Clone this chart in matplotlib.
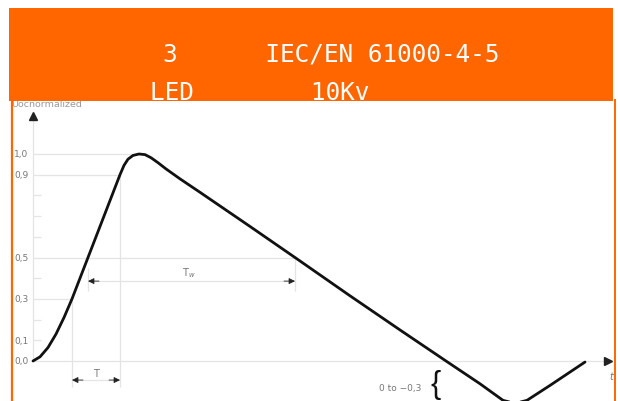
import numpy as np
import matplotlib
matplotlib.use("Agg")
import matplotlib.pyplot as plt
from matplotlib.patches import Rectangle
from matplotlib.lines import Line2D

# banner text (the blank runs are where the original had glyphs that did not render)
TITLE_LINE_1 = "3      IEC/EN 61000-4-5"
TITLE_LINE_2 = "LED        10Kv"

# normalized surge waveform (arbitrary time units)
time_us = [0.0, 0.7, 1.5, 2.3, 3.1, 3.9, 4.7, 5.5, 6.3, 7.1, 7.9, 8.7,
           9.1, 9.5, 10.0, 10.6, 11.2, 11.8, 12.5, 13.3, 14.7, 16.7,
           21.7, 26.2, 31.7, 36.7, 41.3, 44.7, 47.0, 48.2, 49.4, 51.7, 55.2]
level = [0.0, 0.02, 0.065, 0.13, 0.21, 0.30, 0.40, 0.50, 0.60, 0.70, 0.80, 0.90,
         0.945, 0.975, 0.993, 1.0, 0.997, 0.982, 0.958, 0.928, 0.88, 0.815,
         0.65, 0.50, 0.315, 0.15, 0.0, -0.11, -0.19, -0.205, -0.19, -0.118, -0.005]

tick_values = [1.0, 0.9, 0.5, 0.3, 0.1, 0.0]
tick_labels = ["1,0", "0,9", "0,5", "0,3", "0,1", "0,0"]
minor_values = [0.2, 0.4, 0.6, 0.7, 0.8]

ORANGE = "#ff6600"
GRID = "#e4e4e4"
LABEL = "#777777"
INK = "#111111"

W, H = 618, 402
fig = plt.figure(figsize=(W / 100, H / 100), dpi=100)
ax = fig.add_axes([0, 0, 1, 1])
ax.set_xlim(-3.3, 58.5)
ax.set_ylim(-40 / 207, 362 / 207)
ax.axis("off")

t = np.array(time_us)
v = np.array(level)
i_peak = int(np.argmax(v))
i_min = int(np.argmin(v))
t_rise, v_rise = t[: i_peak + 1], v[: i_peak + 1]
t_fall, v_fall = t[i_peak: i_min + 1], v[i_peak: i_min + 1]


def rise_at(x):
    return float(np.interp(x, v_rise, t_rise))


def fall_at(x):
    return float(np.interp(x, v_fall[::-1], t_fall[::-1]))


t30, t50r, t90 = rise_at(0.3), rise_at(0.5), rise_at(0.9)
t50f = fall_at(0.5)
t_pk = t[i_peak]

# reference lines
kw = dict(color=GRID, lw=0.9, zorder=1, solid_capstyle="butt")
ax.plot([0, t_pk], [1.0, 1.0], **kw)
ax.plot([0, t90], [0.9, 0.9], **kw)
ax.plot([t90, t90], [0.9, -0.125], **kw)
ax.plot([0, t50f], [0.5, 0.5], **kw)
ax.plot([0, t30], [0.3, 0.3], **kw)
ax.plot([t30, t30], [0.3, -0.125], **kw)
ax.plot([t50r, t50r], [0.45, 0.34], **kw)
ax.plot([t50f, t50f], [0.5, 0.34], **kw)
for m in minor_values + [0.1]:
    ax.plot([0, 0.8], [m, m], **kw)
ax.plot([0, 57.2], [0, 0], **kw)
ax.plot([0, 0], [0, 1.17], **kw)

# axis arrows
ax.plot(0, 1.185, marker="^", ms=5.5, color="#222222", zorder=4)
ax.plot(57.5, 0, marker=">", ms=5.5, color="#222222", zorder=4)


# dimension arrows
def dimension(x0, x1, y):
    ax.plot([x0, x1], [y, y], **kw)
    for tip, tail in ((x0, x0 + 1.1), (x1, x1 - 1.1)):
        ax.annotate("", xy=(tip, y), xytext=(tail, y),
                    arrowprops=dict(arrowstyle="-|>", color="#222222", lw=0.6,
                                    mutation_scale=9, shrinkA=0, shrinkB=0),
                    zorder=4)


y_T = -0.092
y_Tw = 0.386
dimension(t30, t90, y_T)
dimension(t50r, t50f, y_Tw)
ax.text((t30 + t90) / 2, -0.06, "T", fontsize=7, color=LABEL, ha="center", va="center")
ax.text(15.6, 0.43, r"T$_w$", fontsize=7, color=LABEL, ha="center", va="center")

# waveform
ax.plot(t, v, color=INK, lw=2.0, zorder=3, solid_joinstyle="round", solid_capstyle="round")

# tick labels
for val, lab in zip(tick_values, tick_labels):
    ax.text(-0.45, val, lab, fontsize=6.5, color=LABEL, ha="right", va="center")

ax.text(-2.2, (362 - 105) / 207, "Uocnormalized", fontsize=6.8, color="#999999",
        ha="left", va="center")
ax.text(57.8, -0.072, "t", fontsize=7, color=LABEL, style="italic", ha="center", va="center")

# undershoot note
ax.text(36.7, -0.128, "0 to \u22120,3", fontsize=6.5, color=LABEL, ha="center", va="center")
ax.text(40.3, -0.112, "{", fontsize=22, color=INK, ha="center", va="center",
        family="Liberation Sans")

# orange frame and banner
fig.add_artist(Rectangle((8.5 / W, 1 - 102 / H), (613 - 8.5) / W, 93 / H,
                         color=ORANGE, lw=0, zorder=10))
fig.add_artist(Line2D([11.7 / W] * 2, [0, 1 - 101 / H], color=ORANGE, lw=1.6, zorder=10))
fig.add_artist(Line2D([615.3 / W] * 2, [0, 1 - 101 / H], color=ORANGE, lw=1.4, zorder=10))

fig.text(163 / W, 1 - 62 / H, TITLE_LINE_1, color="white", fontsize=17.6,
         family="DejaVu Sans Mono", ha="left", va="baseline", zorder=11)
fig.text(149.5 / W, 1 - 100 / H, TITLE_LINE_2, color="white", fontsize=17.6,
         family="DejaVu Sans Mono", ha="left", va="baseline", zorder=11)

fig.savefig("out.png", dpi=100)
